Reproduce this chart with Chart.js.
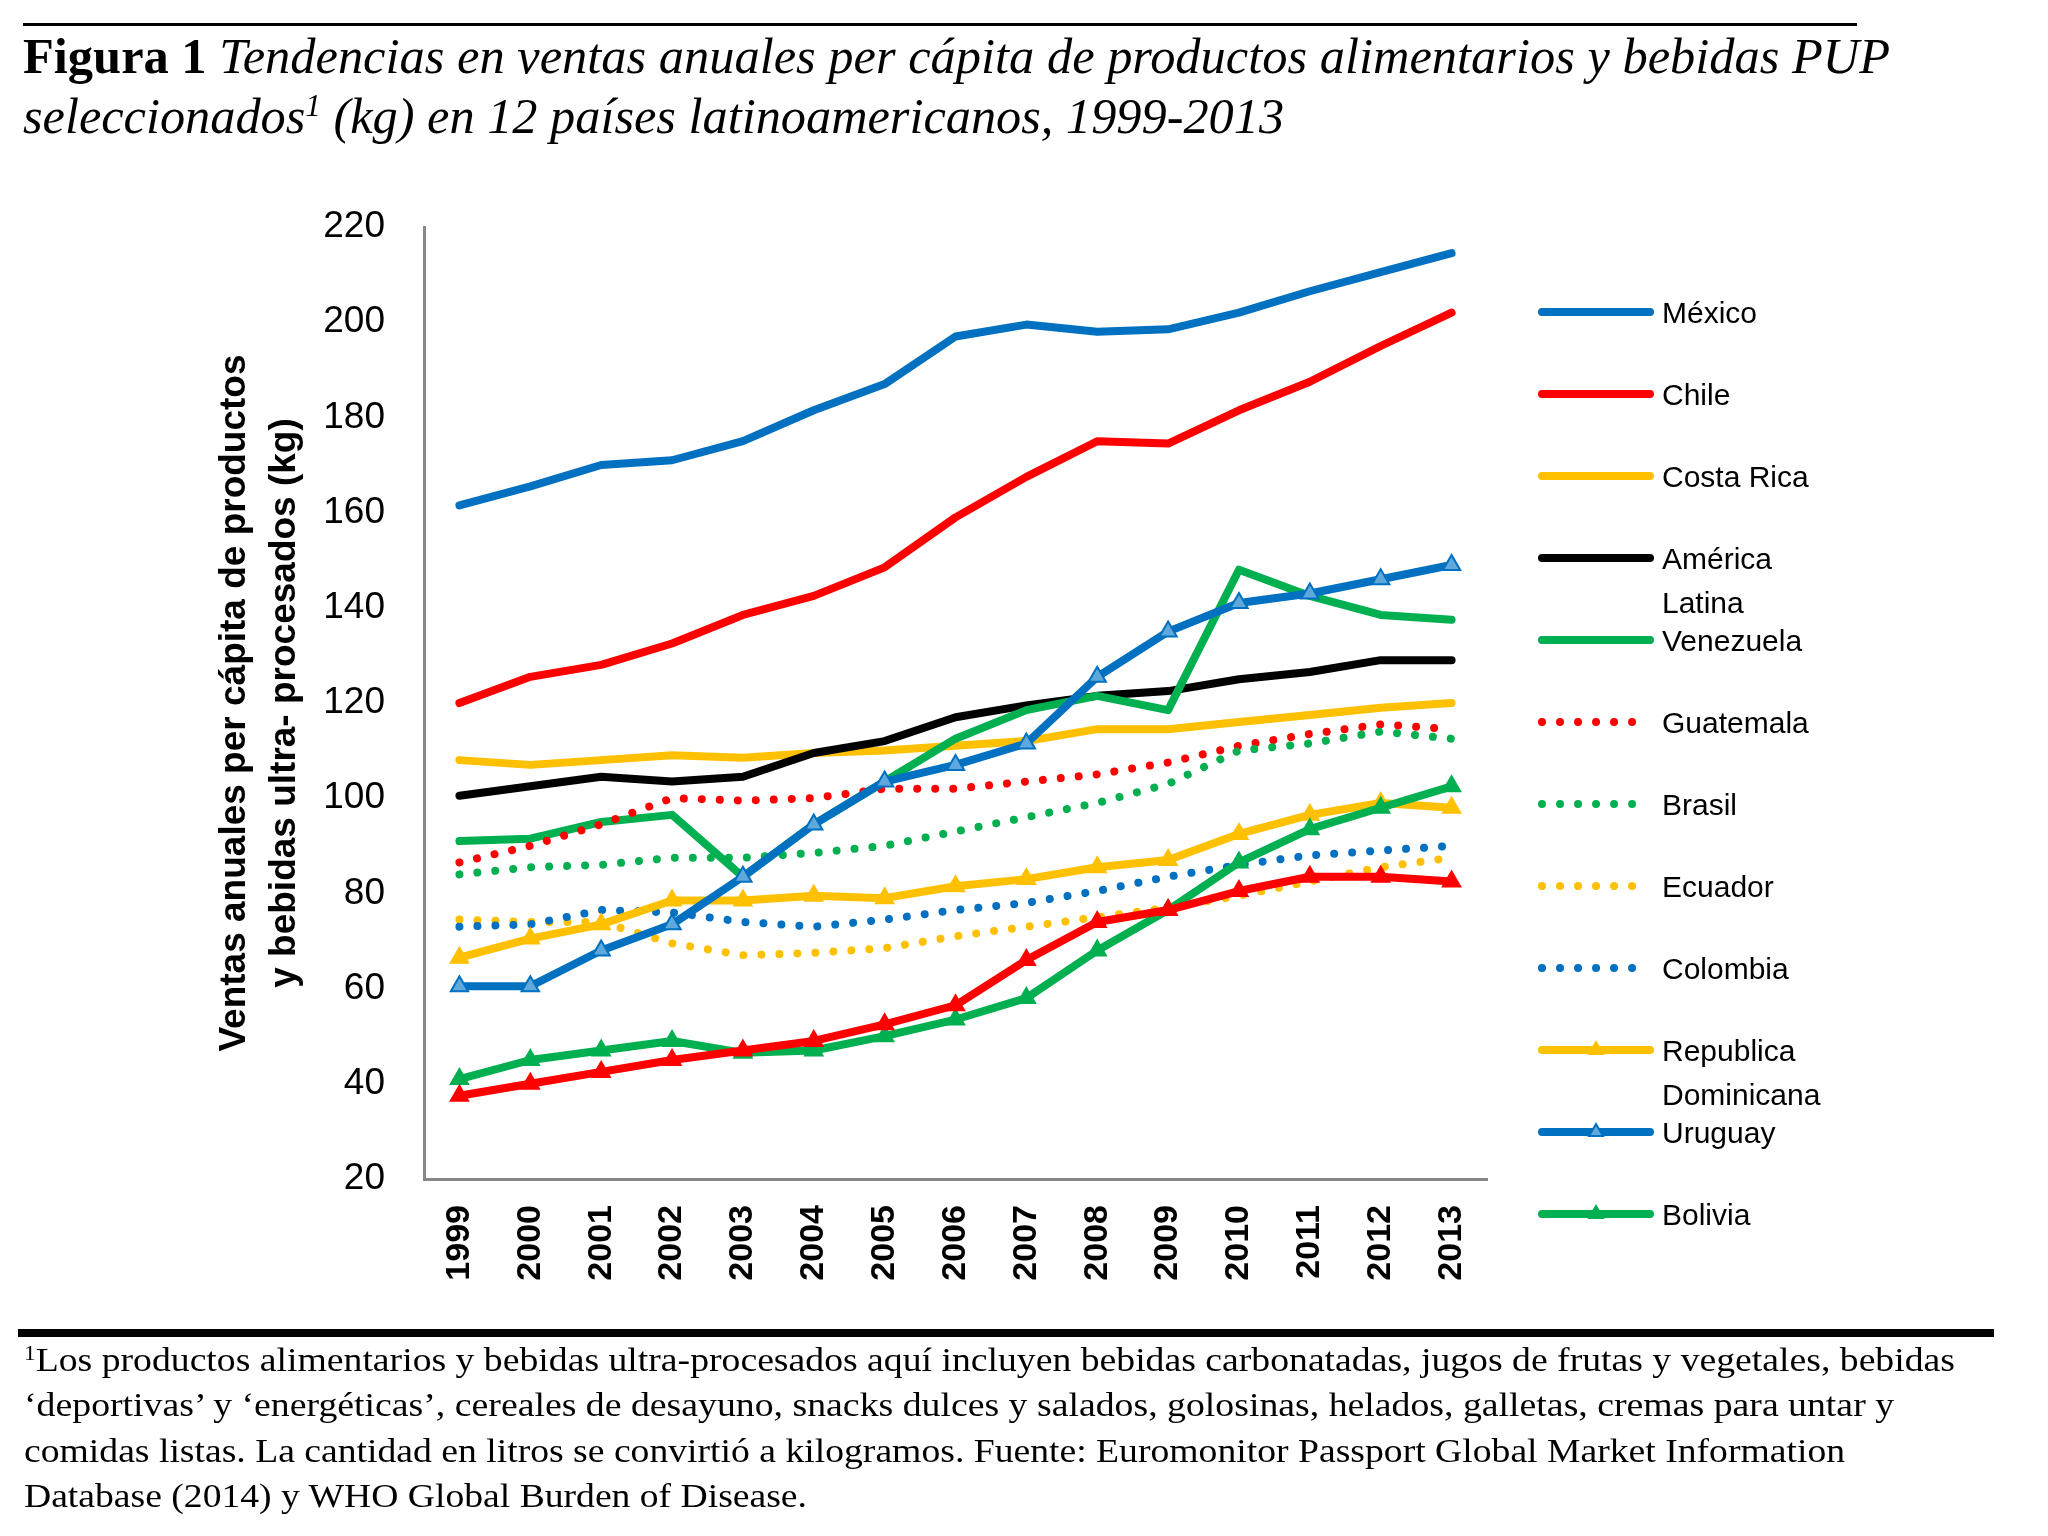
<!DOCTYPE html>
<html>
<head>
<meta charset="utf-8">
<script src="https://cdn.jsdelivr.net/npm/chart.js@4.4.1/dist/chart.umd.min.js"></script>
<style>
html,body{margin:0;padding:0;background:#fff;}
#wrap{position:relative;width:2048px;height:1536px;overflow:hidden;background:#fff;}
#chart{position:absolute;left:0;top:0;}
.txt{position:absolute;white-space:nowrap;transform-origin:0 0;color:#000;font-family:"Liberation Serif","Times New Roman",serif;line-height:1;}
.sup{font-size:0.62em;position:relative;top:-0.55em;}
.rule{position:absolute;background:#000;}
</style>
</head>
<body>
<div id="wrap">
<canvas id="chart" width="2048" height="1536"></canvas>
<div class="rule" style="left:23px;top:23px;width:1834px;height:3px;"></div>
<div class="txt fit" data-w="1867" style="left:23px;top:31px;font-size:50px;"><b>Figura 1</b> <i>Tendencias en ventas anuales per cápita de productos alimentarios y bebidas PUP</i></div>
<div class="txt fit" data-w="1261" style="left:23px;top:91px;font-size:50px;"><i>seleccionados<span class="sup">1</span> (kg) en 12 países latinoamericanos, 1999-2013</i></div>
<div class="rule" style="left:18px;top:1329px;width:1976px;height:8px;"></div>
<div class="txt fit" data-w="1931" style="left:24px;top:1344px;font-size:33px;"><span class="sup">1</span>Los productos alimentarios y bebidas ultra-procesados aquí incluyen bebidas carbonatadas, jugos de frutas y vegetales, bebidas</div>
<div class="txt fit" data-w="1870" style="left:24px;top:1389px;font-size:33px;">‘deportivas’ y ‘energéticas’, cereales de desayuno, snacks dulces y salados, golosinas, helados, galletas, cremas para untar y</div>
<div class="txt fit" data-w="1821" style="left:24px;top:1435px;font-size:33px;">comidas listas. La cantidad en litros se convirtió a kilogramos. Fuente: Euromonitor Passport Global Market Information</div>
<div class="txt fit" data-w="783" style="left:24px;top:1480px;font-size:33px;">Database (2014) y WHO Global Burden of Disease.</div>
</div>
<script>
// ---------- data ----------
const years = ['1999','2000','2001','2002','2003','2004','2005','2006','2007','2008','2009','2010','2011','2012','2013'];
const yTicks = [20, 40, 60, 80, 100, 120, 140, 160, 180, 200, 220];

const mexico      = [161.5, 165.5, 170, 171, 175, 181.5, 187, 197, 199.5, 198, 198.5, 202, 206.5, 210.5, 214.5];
const chile       = [120, 125.5, 128, 132.5, 138.5, 142.5, 148.5, 159, 167.5, 175, 174.5, 181.5, 187.5, 195, 202];
const costaRica   = [108, 107, 108, 109, 108.5, 109.5, 110, 111, 112, 114.5, 114.5, 116, 117.5, 119, 120];
const americaLat  = [100.5, 102.5, 104.5, 103.5, 104.5, 109.5, 112, 117, 119.5, 121.5, 122.5, 125, 126.5, 129, 129];
const venezuela   = [91, 91.5, 95, 96.5, 83.5, 94.5, 103.5, 112.5, 118.5, 121.5, 118.5, 148, 142.5, 138.5, 137.5];
const guatemala   = [86.5, 90, 94.5, 100, 99.5, 100, 102, 102, 103.5, 105, 107.5, 111, 113.5, 115.5, 114.5];
const brasil      = [84, 85.5, 86, 87.5, 87.5, 88.5, 90, 93, 96, 99, 103, 110, 111.5, 114, 112.5];
const ecuador     = [74.5, 74, 74, 69.5, 67, 67.5, 68.5, 71, 73, 75, 77, 79.5, 82.5, 85.5, 87.5];
const colombia    = [73, 73.5, 76.5, 76, 74, 73, 74.5, 76.5, 78, 80.5, 83.5, 86, 88, 89, 90];
const repDom      = [66.5, 70.5, 73.5, 78.5, 78.5, 79.5, 79, 81.5, 83, 85.5, 87, 92.5, 96.5, 99, 98];
const uruguay     = [60.5, 60.5, 68, 73.5, 83.5, 94.5, 103.5, 107, 111.5, 125.5, 135, 141, 143, 146, 149];
const bolivia     = [41, 45, 47, 49, 46.5, 47, 50, 53.5, 58, 68, 76.5, 86.5, 93.5, 98, 102.5];
const peru        = [37.5, 40, 42.5, 45, 47, 49, 52.5, 56.5, 66, 74, 76.5, 80.5, 83.5, 83.5, 82.5];

const yTitle = ['Ventas anuales per cápita de productos', 'y bebidas ultra- procesados (kg)'];

// ---------- styles ----------
const BLUE = '#0070C0', RED = '#FF0000', YEL = '#FFC000', BLK = '#000000', GRN = '#00B050', LBLUE = '#5FA8DC';
const LW = 8;
function solid(label, data, color) {
  return {label, data, borderColor: color, backgroundColor: color, borderWidth: LW,
    pointRadius: 0, pointHoverRadius: 0, tension: 0, borderCapStyle: 'round', borderJoinStyle: 'round', fill: false};
}
function dotted(label, data, color) {
  const d = solid(label, data, color);
  d.borderDash = [0.01, 18];
  d.borderCapStyle = 'round';
  d.legendDotted = true;
  return d;
}
function tri(label, data, color, fillC) {
  const d = solid(label, data, color);
  d.pointStyle = 'triangle';
  d.pointRadius = 10;
  d.pointHoverRadius = 10;
  d.pointBackgroundColor = fillC || color;
  d.pointBorderColor = color;
  d.pointBorderWidth = 2;
  return d;
}

const datasets = [
  solid('México', mexico, BLUE),
  solid('Chile', chile, RED),
  solid('Costa Rica', costaRica, YEL),
  solid('América Latina', americaLat, BLK),
  solid('Venezuela', venezuela, GRN),
  dotted('Guatemala', guatemala, RED),
  dotted('Brasil', brasil, GRN),
  dotted('Ecuador', ecuador, YEL),
  dotted('Colombia', colombia, BLUE),
  tri('Republica Dominicana', repDom, YEL),
  tri('Uruguay', uruguay, BLUE, LBLUE),
  tri('Bolivia', bolivia, GRN),
  Object.assign(tri('Perú', peru, RED), {hideInLegend: true})
];
// later series drawn on top (as in the original spreadsheet chart)
datasets.forEach((d, i) => { d.order = datasets.length - i; });

// ---------- side legend ----------
const sideLegend = {
  id: 'sideLegend',
  afterDraw(chart, args, o) {
    const ctx = chart.ctx;
    ctx.save();
    ctx.font = o.font;
    ctx.fillStyle = '#000';
    ctx.textBaseline = 'alphabetic';
    let i = 0;
    chart.data.datasets.forEach(ds => {
      if (ds.hideInLegend) return;
      const y = o.top + i * o.step;
      i++;
      ctx.save();
      ctx.strokeStyle = ds.borderColor;
      ctx.lineWidth = ds.borderWidth;
      ctx.lineCap = 'round';
      ctx.beginPath();
      if (ds.legendDotted) {
        ctx.setLineDash([0.01, 18]);
        ctx.moveTo(o.x0 + 4, y); ctx.lineTo(o.dotEnd, y);
      } else {
        ctx.moveTo(o.x0 + 4, y); ctx.lineTo(o.x1 - 4, y);
      }
      ctx.stroke();
      ctx.restore();
      if (ds.pointStyle === 'triangle') {
        ctx.save();
        ctx.fillStyle = ds.pointBackgroundColor;
        ctx.strokeStyle = ds.pointBorderColor;
        ctx.lineWidth = ds.pointBorderWidth;
        Chart.helpers.drawPoint(ctx, {pointStyle: 'triangle', radius: o.markR, borderWidth: ds.pointBorderWidth, rotation: 0}, (o.x0 + o.x1) / 2, y);
        ctx.restore();
      }
      // wrap label text
      const words = ds.label.split(' ');
      const lines = [];
      let cur = '';
      words.forEach(w => {
        const t = cur ? cur + ' ' + w : w;
        if (cur && ctx.measureText(t).width > o.maxW) { lines.push(cur); cur = w; } else { cur = t; }
      });
      if (cur) lines.push(cur);
      lines.forEach((ln, k) => ctx.fillText(ln, o.textX, y + o.baseOff + k * o.lineGap));
    });
    ctx.restore();
  }
};

const SANS = '"Liberation Sans", Arial, sans-serif';
new Chart(document.getElementById('chart'), {
  type: 'line',
  data: {labels: years, datasets},
  plugins: [sideLegend],
  options: {
    responsive: false,
    devicePixelRatio: 1,
    animation: false,
    events: [],
    layout: {padding: {left: 0, top: 227, right: 561, bottom: 0}},
    plugins: {
      legend: {display: false},
      tooltip: {enabled: false},
      sideLegend: {font: '30px ' + SANS, top: 312, step: 82, x0: 1538, x1: 1654, dotEnd: 1636,
        textX: 1662, baseOff: 11, lineGap: 44, maxW: 190, markR: 8}
    },
    scales: {
      x: {
        offset: true,
        grid: {display: false, drawTicks: false},
        border: {display: true, color: '#888888', width: 3},
        ticks: {autoSkip: false, minRotation: 90, maxRotation: 90, padding: 26, color: '#000',
          font: {family: SANS, size: 34, weight: 'bold'}},
        afterFit(s) { s.height = 1536 - 1179; }
      },
      y: {
        min: yTicks[0],
        max: yTicks[yTicks.length - 1],
        grid: {display: false, drawTicks: false},
        border: {display: true, color: '#888888', width: 3},
        ticks: {stepSize: yTicks[1] - yTicks[0], padding: 39, color: '#000',
          font: {family: SANS, size: 37}},
        title: {display: true, text: yTitle, color: '#000', padding: {top: 210, bottom: 0},
          font: {family: SANS, size: 37, weight: 'bold', lineHeight: 1.35}},
        afterFit(s) { s.width = 424; }
      }
    }
  }
});

// fit text lines to the measured widths of the reference
function fitAll() {
  document.querySelectorAll('.fit').forEach(el => {
    el.style.transform = 'none';
    const w = el.getBoundingClientRect().width;
    const target = parseFloat(el.dataset.w);
    if (w > 0) el.style.transform = 'scaleX(' + (target / w).toFixed(4) + ')';
  });
}
fitAll();
if (document.fonts && document.fonts.ready) document.fonts.ready.then(fitAll);
</script>
</body>
</html>
